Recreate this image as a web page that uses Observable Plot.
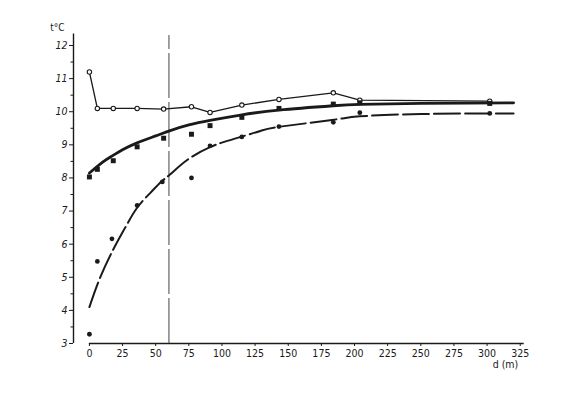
<!DOCTYPE html>
<html>
<head>
<meta charset="utf-8">
<script src="https://cdn.jsdelivr.net/npm/d3@7"></script>
<script src="https://cdn.jsdelivr.net/npm/@observablehq/plot@0.6"></script>
<style>
  html, body { margin: 0; padding: 0; background: #fff; }
</style>
</head>
<body>
<div id="chart"></div>
<script>
// Distances (m) of the measurement points
const distances = [0, 6, 18, 36, 56, 77, 91, 115, 143, 184, 204, 302];
// Upper series (open circles, thin line), t °C
const openValues = [11.2, 10.1, 10.1, 10.1, 10.08, 10.15, 9.98, 10.2, 10.37, 10.57, 10.35, 10.32];
// Middle series (filled squares)
const squareValues = [8.03, 8.26, 8.52, 8.94, 9.2, 9.32, 9.58, 9.83, 10.1, 10.23, 10.27, 10.25];
// Lower series (filled dots)
const dotDistances = [0, 6, 17, 36, 55, 77, 91, 115, 143, 184, 204, 302];
const dotValues = [3.28, 5.48, 6.16, 7.17, 7.88, 8.0, 8.97, 9.24, 9.55, 9.68, 9.97, 9.95];

// Fitted curve (solid, thick)
const solidCurveX = [0, 10, 17, 25, 36, 50, 61, 75, 91, 114, 143, 184, 204, 250, 320];
const solidCurveY = [8.15, 8.48, 8.66, 8.85, 9.06, 9.27, 9.43, 9.6, 9.74, 9.9, 10.05, 10.18, 10.22, 10.25, 10.27];
// Fitted curve (dashed)
const dashCurveX = [0, 8, 18, 27, 36, 46, 54, 61, 74, 91, 104, 115, 129, 144, 183, 204, 250, 320];
const dashCurveY = [4.1, 4.98, 5.84, 6.5, 7.1, 7.55, 7.88, 8.11, 8.55, 8.93, 9.12, 9.25, 9.42, 9.55, 9.75, 9.86, 9.93, 9.95];

// Vertical reference distance
const markerDistance = [60];

// Axes
const xTicks = [0, 25, 50, 75, 100, 125, 150, 175, 200, 225, 250, 275, 300, 325];
const yTicks = [3, 4, 5, 6, 7, 8, 9, 10, 11, 12];
const yMinorTicks = [3.5, 4.5, 5.5, 6.5, 7.5, 8.5, 9.5, 10.5, 11.5];
const yLabel = "t°C";
const xLabel = "d (m)";

const openData = distances.map((d, i) => ({d, t: openValues[i]}));
const squareData = distances.map((d, i) => ({d, t: squareValues[i]}));
const dotData = dotDistances.map((d, i) => ({d, t: dotValues[i]}));
const solidCurve = solidCurveX.map((d, i) => ({d, t: solidCurveY[i]}));
const dashCurve = dashCurveX.map((d, i) => ({d, t: dashCurveY[i]}));

const ink = "#1a1a1a";

const chart = Plot.plot({
  width: 584,
  height: 393,
  marginLeft: 73,
  marginRight: 55,
  marginTop: 45,
  marginBottom: 50,
  style: {
    fontFamily: "'DejaVu Sans Condensed', 'DejaVu Sans', sans-serif",
    fontSize: "10.5px",
    background: "#fff",
    color: ink
  },
  x: {domain: [-12, 332], axis: null},
  y: {domain: [3, 12], axis: null},
  marks: [
    // axis lines
    Plot.ruleY([3], {x1: 0, x2: 328, stroke: ink, strokeWidth: 1.4}),
    Plot.ruleX([-12], {y1: 3, y2: 12.35, stroke: ink, strokeWidth: 1.4}),
    Plot.axisX({ticks: xTicks, tickSize: 3, tickPadding: 3, label: null, stroke: ink, fill: ink}),
    Plot.axisY({ticks: yTicks, tickSize: 4, tickPadding: 2, label: null, stroke: ink, fill: ink, fontStyle: "italic"}),
    Plot.axisY({ticks: yMinorTicks, tickSize: 2.5, tickFormat: () => "", label: null, stroke: ink}),
    Plot.text([yLabel], {x: -12, y: 12, frameAnchor: "middle", dx: -16, dy: -18, fill: ink, fontSize: 10}),
    Plot.text([xLabel], {x: 325, y: 3, dy: 21, dx: -2, textAnchor: "end", fill: ink, fontSize: 10.5}),
    // vertical reference line
    Plot.ruleX(markerDistance, {y1: 3, y2: 12.3, stroke: "#444", strokeWidth: 1, strokeDasharray: "45,4"}),
    // fitted curves
    Plot.line(dashCurve, {x: "d", y: "t", curve: "natural", stroke: ink, strokeWidth: 2, strokeDasharray: "26,5"}),
    Plot.line(solidCurve, {x: "d", y: "t", curve: "natural", stroke: ink, strokeWidth: 2.8}),
    // upper series
    Plot.line(openData, {x: "d", y: "t", stroke: ink, strokeWidth: 1.3}),
    Plot.dot(openData, {x: "d", y: "t", r: 2.2, fill: "#fff", stroke: ink, strokeWidth: 1.1}),
    // middle series
    Plot.dot(squareData, {x: "d", y: "t", symbol: "square", r: 2.8, fill: ink, stroke: "none"}),
    // lower series
    Plot.dot(dotData, {x: "d", y: "t", r: 2.4, fill: ink, stroke: "none"})
  ]
});

document.getElementById("chart").appendChild(chart);
</script>
</body>
</html>
